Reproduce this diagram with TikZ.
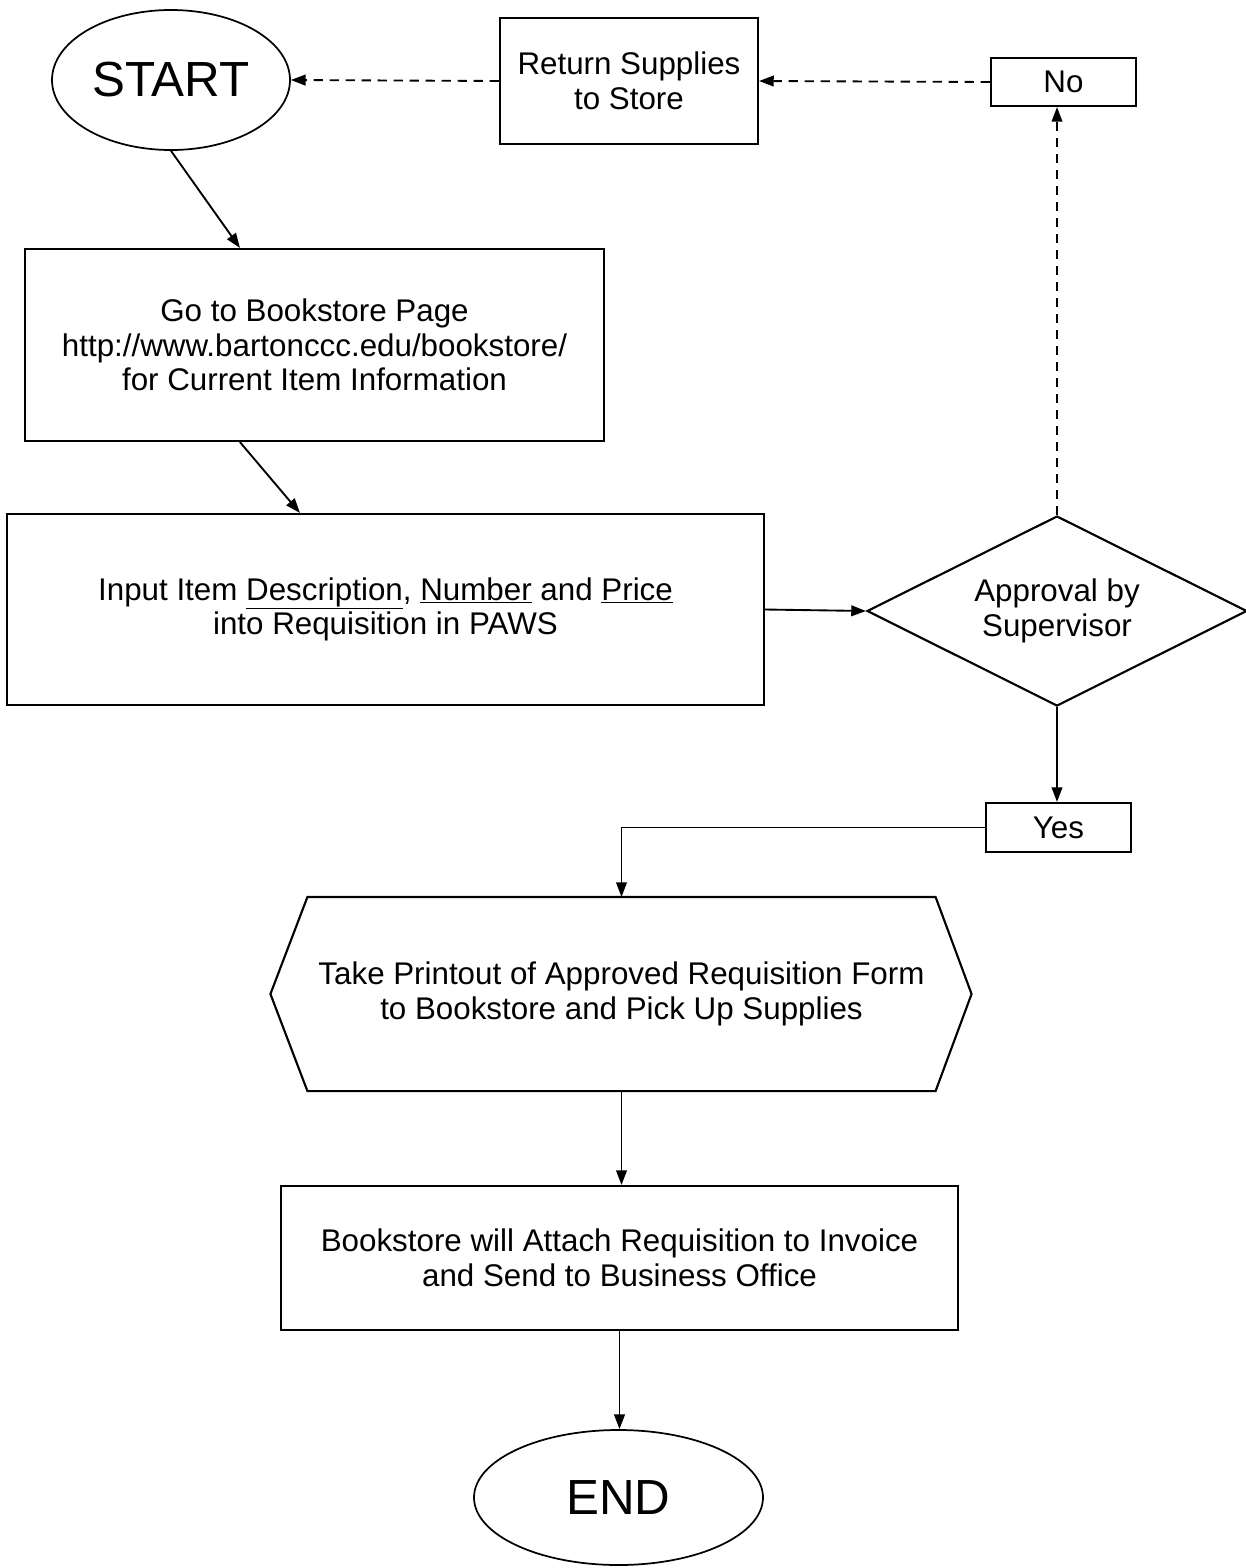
\documentclass[tikz,border=0pt]{standalone}
\usepackage{fontspec}
\setmainfont{Liberation Sans}
\usetikzlibrary{shapes.geometric,arrows.meta,calc}

\tikzset{every picture/.style={line width=0.75pt}}
\tikzset{
  procbox/.style={draw,line width=1.6pt,align=center,font=\fontsize{23.5}{26}\selectfont,inner sep=0pt},
  termnode/.style={draw,ellipse,line width=1.3pt,font=\fontsize{37}{40}\selectfont,inner sep=0pt},
  flowarrow/.style={line width=1.4pt,-{Triangle[length=11pt,width=8pt]}},
  backarrow/.style={flowarrow,dash pattern=on 7pt off 5pt}
}

\begin{document}
\begin{tikzpicture}[x=0.75pt,y=0.75pt,yscale=-1,xscale=1]
	\useasboundingbox (0,0) rectangle (1246,1568);

	%Shape: Ellipse [id:start]
	\node[termnode,minimum width=238*0.75pt,minimum height=140*0.75pt] (start) at (171,80) {START};
	%Shape: Rectangle [id:ret]
	\node[procbox,minimum width=258*0.75pt,minimum height=126*0.75pt] (ret) at (629,81) {Return Supplies\\to Store};
	%Shape: Rectangle [id:no]
	\node[procbox,minimum width=145*0.75pt,minimum height=48*0.75pt] (no) at (1063.5,82) {No};
	%Shape: Rectangle [id:site]
	\node[procbox,minimum width=579*0.75pt,minimum height=192*0.75pt] (site) at (314.5,345) {Go to Bookstore Page\\http://www.bartonccc.edu/bookstore/\\for Current Item Information};
	%Shape: Rectangle [id:input]
	\node[procbox,minimum width=757*0.75pt,minimum height=191*0.75pt] (input) at (385.5,609.5) {Input Item \underline{Description}, \underline{Number} and \underline{Price}\\into Requisition in PAWS};
	%Shape: Diamond [id:approve]
	\node[procbox,diamond,aspect=2,minimum width=380*0.75pt,minimum height=190*0.75pt] (approve) at (1057,611) {Approval by\\Supervisor};
	%Shape: Rectangle [id:yes]
	\node[procbox,minimum width=145*0.75pt,minimum height=49*0.75pt] (yes) at (1058.5,827.5) {Yes};
	%Shape: Hexagon [id:take]
	\node[procbox,draw=none,minimum width=626*0.75pt,minimum height=192*0.75pt] (take) at (621.5,994) {Take Printout of Approved Requisition Form\\to Bookstore and Pick Up Supplies};
	\draw[line width=1.6pt] (take.north west) -- (take.north east) -- ($(take.east)+(36,0)$) -- (take.south east) -- (take.south west) -- ($(take.west)+(-37,0)$) -- cycle;
	%Shape: Rectangle [id:attach]
	\node[procbox,minimum width=677*0.75pt,minimum height=144*0.75pt] (attach) at (619.5,1258) {Bookstore will Attach Requisition to Invoice\\and Send to Business Office};
	%Shape: Ellipse [id:end]
	\node[termnode,minimum width=289*0.75pt,minimum height=135*0.75pt] (end) at (618.5,1497.5) {END};

	%Straight Lines
	\draw[flowarrow] (start.south) -- ($(site.north west)+(216,0)$);
	\draw[flowarrow] ($(site.south west)+(216,0)$) -- ($(input.north west)+(294,0)$);
	\draw[flowarrow] (input.east) -- (approve.west);
	\draw[flowarrow] (approve.south) -- (approve.south |- yes.north);
	\draw[flowarrow] (yes.west) -| (take.north);
	\draw[flowarrow] (take.south) -- (take.south |- attach.north);
	\draw[flowarrow] (attach.south) -- (attach.south |- end.north);

	%Dashed Lines
	\draw[backarrow] (approve.north) -- (approve.north |- no.south);
	\draw[backarrow] (no.west) -- (ret.east);
	\draw[backarrow] (ret.west) -- (start.east);

\end{tikzpicture}
\end{document}
